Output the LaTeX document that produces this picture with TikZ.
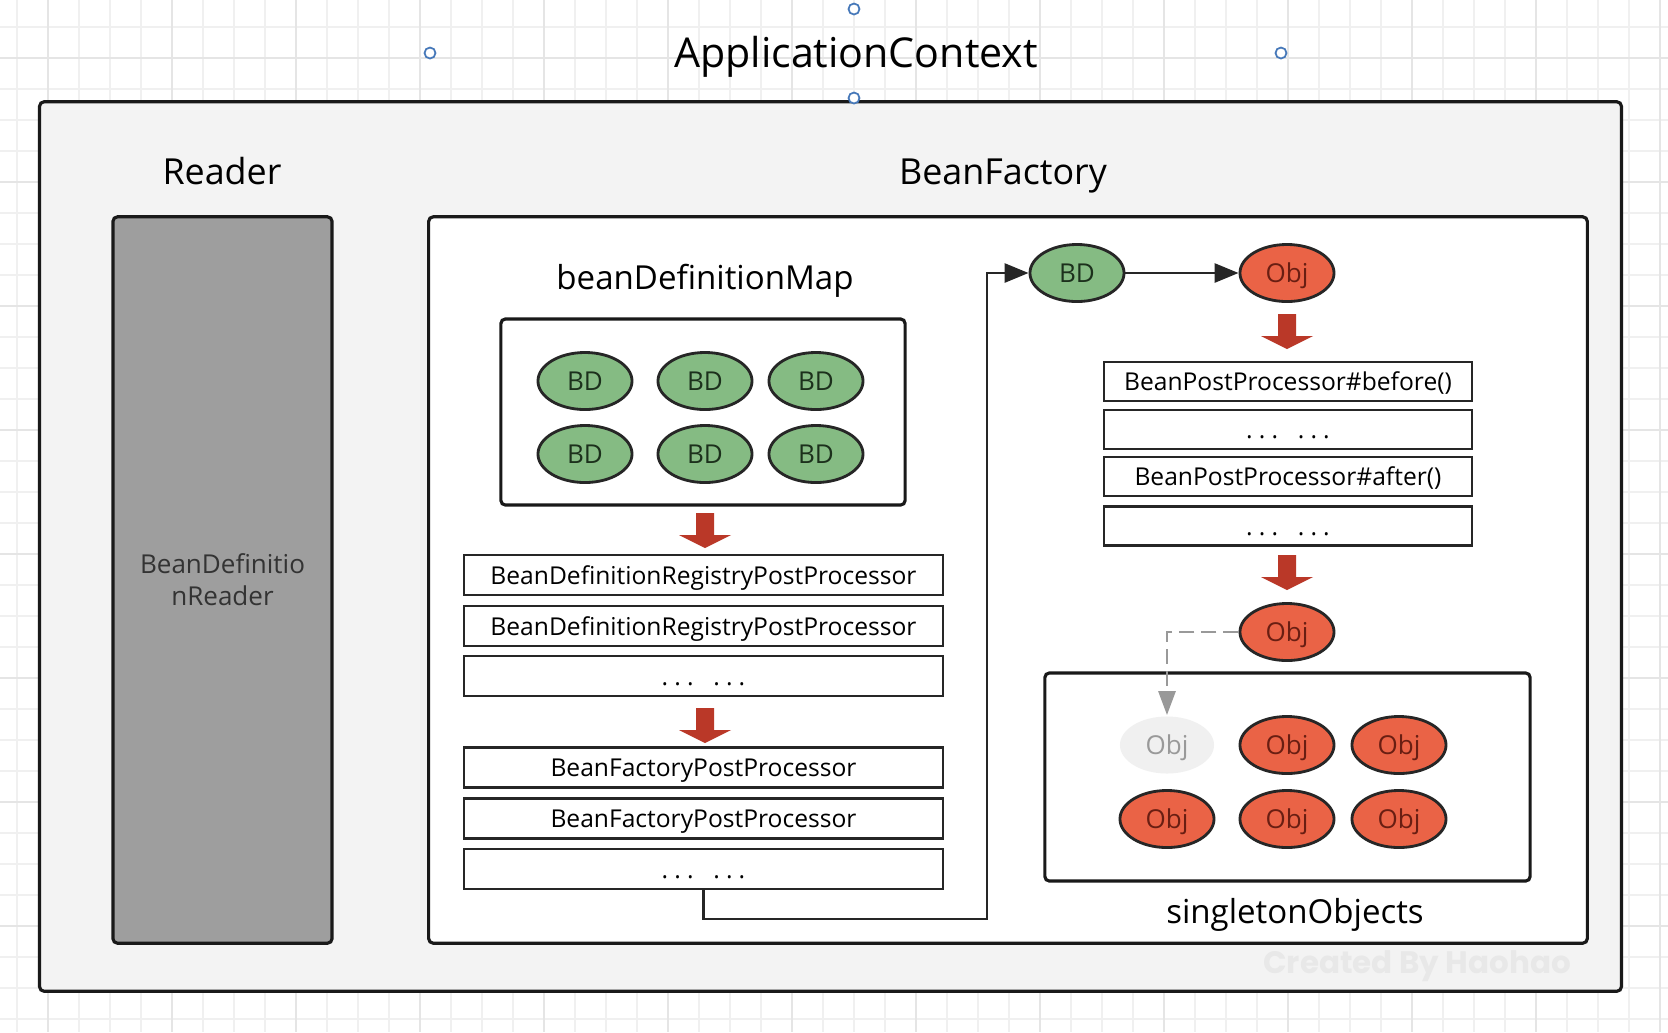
\documentclass[tikz,border=0pt]{standalone}
\usepackage{fontspec}
\setmainfont{Open Sans}
\newfontfamily\markfont{Poppins}
\usepackage{xcolor}
\usetikzlibrary{shapes.geometric,arrows.meta}

\definecolor{bdgreen}{RGB}{133,187,131}
\definecolor{bdtext}{RGB}{28,48,28}
\definecolor{objred}{RGB}{234,99,70}
\definecolor{objtext}{RGB}{105,30,18}
\definecolor{arrowred}{RGB}{186,56,40}
\definecolor{readergray}{RGB}{158,158,158}
\definecolor{ctxgray}{RGB}{243,243,243}
\definecolor{handleblue}{RGB}{70,120,185}

\newcommand{\moredots}{.\hspace{0.25em}.\hspace{0.25em}.\hspace{0.8em}.\hspace{0.25em}.\hspace{0.25em}.}

\tikzset{
	pics/redarrow/.style={code={
		\fill[arrowred] (-9,0) -- (9,0) -- (9,22) -- (26,22) -- (0,35) -- (-26,22) -- (-9,22) -- cycle;
	}}
}

\begin{document}
\begin{tikzpicture}[x=0.01cm, y=-0.01cm,
	gridline/.style={draw=black!6, line width=0.4pt},
	gridmajor/.style={draw=black!10, line width=0.5pt},
	frame/.style={draw=black!90, line width=0.9pt, rounded corners=1.3pt, inner sep=0pt},
	handle/.style={circle, draw=handleblue, fill=white, line width=0.5pt, minimum size=0.11cm, inner sep=0pt},
	heading/.style={anchor=base, font=\fontsize{10.2}{12}\selectfont},
	label/.style={anchor=base, font=\fontsize{9.4}{11}\selectfont},
	bd/.style={ellipse, draw=black!85, line width=0.8pt, fill=bdgreen, text=bdtext,
		minimum width=0.94cm, minimum height=0.57cm, inner sep=0pt, text height=5.4pt, text depth=0pt,
		font=\fontsize{7.4}{9}\selectfont},
	obj/.style={bd, fill=objred, text=objtext},
	ghost/.style={obj, draw=none, fill=black!6, text=black!40},
	proc/.style={draw=black!85, line width=0.6pt, minimum width=4.79cm, minimum height=0.40cm,
		inner sep=0pt, text height=5.2pt, text depth=0pt, font=\fontsize{7}{8}\selectfont},
	post/.style={proc, minimum width=3.68cm, minimum height=0.39cm},
	flow/.style={draw=black!85, line width=0.8pt, -{Triangle[length=0.24cm,width=0.19cm]}},
	dashflow/.style={draw=black!40, line width=0.8pt, dash pattern=on 4.3pt off 2pt,
		-{Triangle[length=0.24cm,width=0.17cm]}}
]
	\useasboundingbox (0,0) rectangle (1668,1032);
	\fill[white] (0,0) rectangle (1668,1032);

	% background grid
	\foreach \gx in {17,48,...,1668} \draw[gridline] (\gx,0) -- (\gx,1032);
	\foreach \gy in {27,58,...,1032} \draw[gridline] (0,\gy) -- (1668,\gy);
	\foreach \gx in {48,172,...,1668} \draw[gridmajor] (\gx,0) -- (\gx,1032);
	\foreach \gy in {58,182,...,1032} \draw[gridmajor] (0,\gy) -- (1668,\gy);

	\draw
	node[frame, fill=ctxgray, minimum width=15.81cm, minimum height=8.89cm] at (830.5,546.5) (ctx) {}
	node[font=\fontsize{11.7}{14}\selectfont, anchor=base] at (856,67) (title) {ApplicationContext}
	node[handle] at (854,9) (h1) {}
	node[handle] at (430,53) (h2) {}
	node[handle] at (1281,53) (h3) {}
	node[handle] at (854,98) (h4) {}
	node[heading] at (222,184) (readlbl) {Reader}
	node[heading] at (1003,184) (factlbl) {BeanFactory}
	node[frame, fill=readergray, text=black!80, minimum width=2.19cm, minimum height=7.26cm,
		align=center, font=\fontsize{7.4}{9.1}\selectfont] at (222.5,580) (reader) {BeanDefinitio\\nReader}
	node[frame, fill=white, minimum width=11.58cm, minimum height=7.26cm] at (1008,580) (factory) {}
	node[font=\markfont\bfseries\fontsize{8.8}{11}\selectfont, text=black!9] at (1417,966) (mark) {Created By Haohao};

	% beanDefinitionMap
	\draw
	node[label] at (705,289) (maplbl) {beanDefinitionMap}
	node[frame, fill=white, minimum width=4.04cm, minimum height=1.86cm] at (703,412) (map) {}
	node[bd] at (585,381) (bd1) {BD}
	node[bd] at (705,381) (bd2) {BD}
	node[bd] at (816,381) (bd3) {BD}
	node[bd] at (585,454) (bd4) {BD}
	node[bd] at (705,454) (bd5) {BD}
	node[bd] at (816,454) (bd6) {BD}
	node[proc] at (703.5,575) (reg1) {BeanDefinitionRegistryPostProcessor}
	node[proc] at (703.5,626) (reg2) {BeanDefinitionRegistryPostProcessor}
	node[proc] at (703.5,676) (regdots) {\moredots}
	node[proc] at (703.5,767.5) (fp1) {BeanFactoryPostProcessor}
	node[proc] at (703.5,818.5) (fp2) {BeanFactoryPostProcessor}
	node[proc] at (703.5,869) (fpdots) {\moredots};
	\pic at (705,513) {redarrow};
	\pic at (705,708) {redarrow};

	% bean creation
	\draw
	node[bd] at (1077,273) (bdtop) {BD}
	node[obj] at (1287,273) (objtop) {Obj}
	node[post] at (1288,381.5) (before) {BeanPostProcessor\#before()}
	node[post] at (1288,429.5) (pdots1) {\moredots}
	node[post] at (1288,476.5) (after) {BeanPostProcessor\#after()}
	node[post] at (1288,526) (pdots2) {\moredots}
	node[obj] at (1287,632) (objmid) {Obj};
	\pic at (1287,314) {redarrow};
	\pic at (1287,555) {redarrow};

	% singletonObjects
	\draw
	node[frame, fill=white, minimum width=4.85cm, minimum height=2.08cm] at (1287.5,777) (singletons) {}
	node[label] at (1295,923) (singlbl) {singletonObjects}
	node[ghost] at (1167,745) (ghost) {Obj}
	node[obj] at (1287,745) (obj2) {Obj}
	node[obj] at (1399,745) (obj3) {Obj}
	node[obj] at (1167,819) (obj4) {Obj}
	node[obj] at (1287,819) (obj5) {Obj}
	node[obj] at (1399,819) (obj6) {Obj};

	% connectors
	\coordinate (turn) at (987,919);
	\draw[flow] (fpdots.south) |- (turn) |- (bdtop.west);
	\draw[flow] (bdtop) -- (objtop);
	\draw[dashflow] (objmid.west) -| (ghost.north);
\end{tikzpicture}
\end{document}
